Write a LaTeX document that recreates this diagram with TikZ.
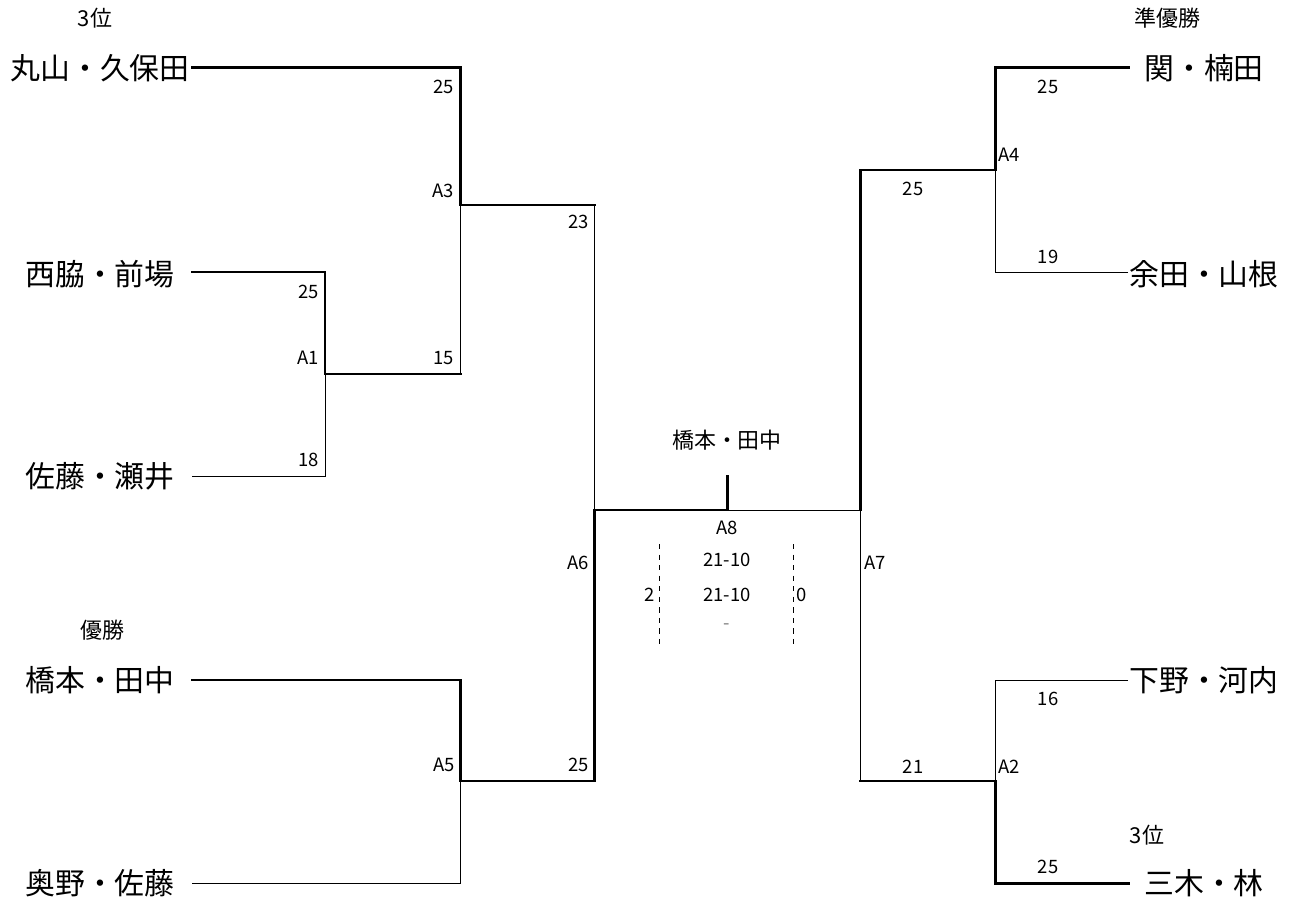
\documentclass[tikz,border=0pt]{standalone}
\usepackage{fontspec}
\setmainfont{Noto Sans CJK JP}
\begin{document}
\begin{tikzpicture}[
    x=0.02cm,
    y=-0.02cm,
    team/.style={
        inner sep=0pt,
        font=\fontsize{17}{20}\selectfont
    },
    rank/.style={
        inner sep=0pt,
        font=\fontsize{12.5}{14}\selectfont
    },
    score/.style={
        inner sep=0pt,
        font=\fontsize{10.5}{12}\selectfont
    },
    win/.style={line width=1.7pt, line cap=rect},
    lose/.style={line width=0.5pt}
]
\useasboundingbox (0,0) rectangle (1293,901);

\node[team] (maruyama) at (100,68) {丸山・久保田};
\node[team] (nishiwaki) at (100,274) {西脇・前場};
\node[team] (sato) at (100,476) {佐藤・瀬井};
\node[team] (hashimoto) at (100,680) {橋本・田中};
\node[team] (okuno) at (100,883) {奥野・佐藤};
\node[team] (seki) at (1204,68) {関・楠田};
\node[team] (yoda) at (1204,274) {余田・山根};
\node[team] (shimono) at (1204,680) {下野・河内};
\node[team] (miki) at (1204,883) {三木・林};

\node[rank] (third1) at (95,18) {3位};
\node[rank] (first) at (102,630) {優勝};
\node[rank] (second) at (1167,18) {準優勝};
\node[rank] (third2) at (1147,835) {3位};
\node[rank] (champion) at (727,440) {橋本・田中};

\coordinate (maruyama-e) at (192,68);
\coordinate (nishiwaki-e) at (192,272);
\coordinate (sato-e) at (192,476);
\coordinate (hashimoto-e) at (192,680);
\coordinate (okuno-e) at (192,883);
\coordinate (seki-e) at (1128,68);
\coordinate (yoda-e) at (1128,272);
\coordinate (shimono-e) at (1128,680);
\coordinate (miki-e) at (1128,883);

\coordinate (a1) at (325,374);
\coordinate (a2) at (995,781);
\coordinate (a3) at (460,205);
\coordinate (a4) at (995,170);
\coordinate (a5) at (460,781);
\coordinate (a6) at (594,510);
\coordinate (a7) at (860,510);
\coordinate (a8) at (727,510);
\coordinate (final) at (727,476);

\draw[win] (nishiwaki-e) -| (a1);
\draw[lose] (sato-e) -| (a1);
\draw[win] (maruyama-e) -| (a3);
\draw[win] (a1) -- (a1 -| a3);
\draw[lose] (a1 -| a3) -- (a3);
\draw[win] (hashimoto-e) -| (a5);
\draw[lose] (okuno-e) -| (a5);
\draw[win] (a3) -- (a3 -| a6);
\draw[lose] (a3 -| a6) -- (a6);
\draw[win] (a5) -- (a5 -| a6) -- (a6) -- (a8) -- (final);

\draw[win] (seki-e) -| (a4);
\draw[lose] (yoda-e) -| (a4);
\draw[lose] (shimono-e) -| (a2);
\draw[win] (miki-e) -| (a2);
\draw[win] (a4) -- (a7 |- a4) -- (a7);
\draw[win] (a2) -- (a2 -| a7);
\draw[lose] (a2 -| a7) -- (a7) -- (a8);

\draw[dashed] (659,544) -- (659,646);
\draw[dashed] (793,544) -- (793,646);

\node[score, anchor=east] (s-a3-top) at (454,87) {25};
\node[score, anchor=east] (m-a3) at (454,191) {A3};
\node[score, anchor=east] (s-a3-bot) at (454,358) {15};
\node[score, anchor=east] (s-a1-top) at (319,292) {25};
\node[score, anchor=east] (m-a1) at (319,358) {A1};
\node[score, anchor=east] (s-a1-bot) at (319,460) {18};
\node[score, anchor=east] (s-a6-top) at (589,222) {23};
\node[score, anchor=east] (m-a6) at (589,563) {A6};
\node[score, anchor=east] (m-a5) at (455,765) {A5};
\node[score, anchor=east] (s-a6-bot) at (589,765) {25};

\node[score] (m-a8) at (727,528) {A8};
\node[score] (set1) at (727,560) {21-10};
\node[score] (set2) at (727,595) {21-10};
\node[score, gray] (set3) at (727,627) {-};
\node[score] (sets-l) at (650,595) {2};
\node[score] (sets-r) at (802,595) {0};

\node[score, anchor=west] (m-a7) at (864,563) {A7};
\node[score] (s-a7-top) at (913,189) {25};
\node[score] (s-a7-bot) at (913,767) {21};
\node[score, anchor=west] (m-a4) at (998,155) {A4};
\node[score, anchor=west] (m-a2) at (998,767) {A2};
\node[score] (s-a4-top) at (1048,87) {25};
\node[score] (s-a4-bot) at (1048,257) {19};
\node[score] (s-a2-top) at (1048,699) {16};
\node[score] (s-a2-bot) at (1048,867) {25};

\end{tikzpicture}
\end{document}
